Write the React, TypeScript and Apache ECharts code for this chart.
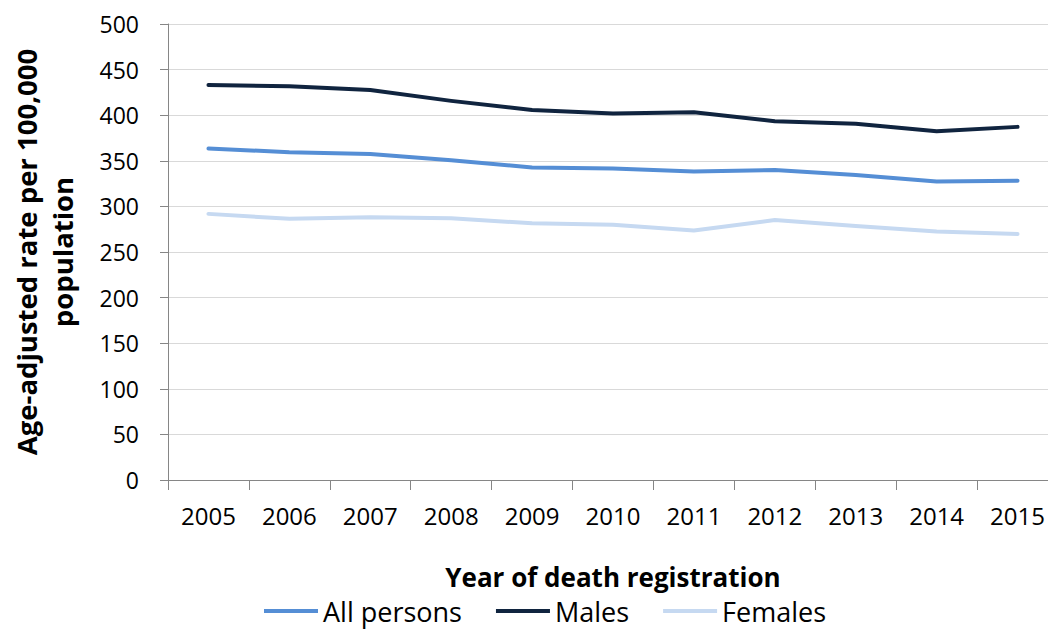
import React, { useEffect, useRef } from "react";
import * as echarts from "echarts";

const years = ["2005", "2006", "2007", "2008", "2009", "2010", "2011", "2012", "2013", "2014", "2015"];
const allPersons = [363.5, 359.5, 357.5, 350.7, 342.7, 341.6, 338.2, 340.0, 334.3, 327.2, 328.2];
const males = [433.2, 431.8, 427.6, 415.7, 405.6, 401.9, 403.2, 393.4, 390.6, 382.4, 387.2];
const females = [291.8, 286.4, 288.0, 287.0, 281.4, 279.8, 273.6, 285.0, 278.6, 272.4, 269.8];

const FONT = "Open Sans";

export default function App() {
  const ref = useRef<HTMLDivElement>(null);
  useEffect(() => {
    document.body.style.margin = "0";
    document.body.style.overflow = "hidden";
    const chart = echarts.init(ref.current!, undefined, { renderer: "svg" });
    const lineSeries = (name: string, data: number[], color: string) => ({
      name,
      type: "line",
      data,
      showSymbol: false,
      symbol: "none",
      lineStyle: { color, width: 4, cap: "round", join: "round" },
      itemStyle: { color },
    });
    chart.setOption({
      animation: false,
      backgroundColor: "#ffffff",
      textStyle: { fontFamily: FONT },
      grid: { left: 163, top: 24, right: 0, bottom: 149 },
      legend: {
        left: 259,
        top: 591,
        icon: "rect",
        itemWidth: 54,
        itemHeight: 4,
        itemGap: 34,
        textStyle: { fontFamily: FONT, fontSize: 27, lineHeight: 30, color: "#000000" },
        data: ["All persons", "Males", "Females"],
      },
      xAxis: {
        type: "category",
        data: years,
        boundaryGap: true,
        name: "Year of death registration",
        nameLocation: "middle",
        nameGap: 84,
        nameTextStyle: { fontFamily: FONT, fontSize: 26, fontWeight: "bold", color: "#000000" },
        axisLine: { lineStyle: { color: "#868686", width: 1 } },
        axisTick: { show: true, length: 10, alignWithLabel: false, lineStyle: { color: "#868686" } },
        axisLabel: { fontFamily: FONT, fontSize: 24, color: "#000000", margin: 23 },
        splitLine: { show: false },
      },
      yAxis: {
        type: "value",
        min: 0,
        max: 500,
        interval: 50,
        name: "Age-adjusted rate per 100,000\npopulation",
        nameLocation: "middle",
        nameRotate: 90,
        nameGap: 88,
        nameTextStyle: { fontFamily: FONT, fontSize: 27.5, fontWeight: "bold", color: "#000000", lineHeight: 36 },
        axisLine: { show: true, lineStyle: { color: "#868686", width: 1 } },
        axisTick: { show: true, inside: false, length: 8, lineStyle: { color: "#868686" } },
        axisLabel: { fontFamily: FONT, fontSize: 23, color: "#000000", margin: 29 },
        splitLine: { show: true, lineStyle: { color: "#D9D9D9", width: 1 } },
      },
      series: [
        lineSeries("All persons", allPersons, "#558ED5"),
        lineSeries("Males", males, "#10243F"),
        lineSeries("Females", females, "#C6D9F1"),
      ],
    });
    return () => chart.dispose();
  }, []);
  return <div ref={ref} style={{ position: "fixed", left: 0, top: 0, width: 1058, height: 629 }} />;
}
